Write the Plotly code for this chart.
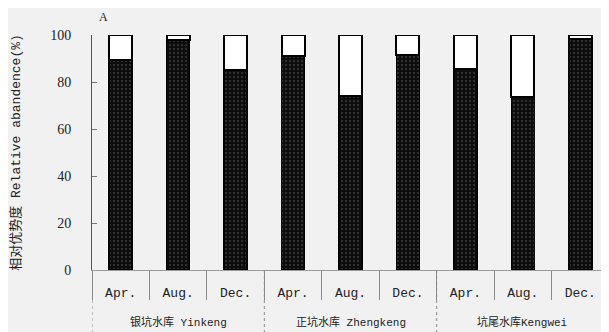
import plotly.graph_objects as go

reservoir_names = ["银坑水库 Yinkeng", "正坑水库 Zhengkeng", "坑尾水库Kengwei"]
month_names = ["Apr.", "Aug.", "Dec."]
reservoirs = [r for r in reservoir_names for _ in month_names]
months = month_names * 3
dominant = [89.2, 97.8, 85.3, 91.2, 74.2, 91.7, 85.7, 73.5, 98.2]
others = [10.8, 2.2, 14.7, 8.8, 25.8, 8.3, 14.3, 26.5, 1.8]
y_ticks = [0, 20, 40, 60, 80, 100]

SERIF = "Liberation Serif, Noto Sans CJK SC, serif"
MONO = "Liberation Mono, Noto Sans CJK SC, monospace"

cats = [f"{r}|{m}" for r, m in zip(reservoirs, months)]

fig = go.Figure()
fig.add_trace(go.Bar(
    x=cats, y=dominant, width=0.4,
    marker=dict(color="#111111", line=dict(color="#000000", width=1.5),
                pattern=dict(shape=".", fgcolor="#6a6a6a", bgcolor="#0d0d0d", size=4, solidity=0.2)),
    showlegend=False,
))
fig.add_trace(go.Bar(
    x=cats, y=others, width=0.4,
    marker=dict(color="#ffffff", line=dict(color="#000000", width=2)),
    showlegend=False,
))

# group labels and group dividers
annotations = []
shapes = []
for gi, name in enumerate(reservoir_names):
    annotations.append(dict(text=name, x=gi * 3 + 1, xref="x", y=-0.221, yref="paper",
                            showarrow=False, yanchor="middle",
                            font=dict(family=MONO, size=11, color="#222222")))
    shapes.append(dict(type="line", xref="x", yref="paper", x0=gi * 3 - 0.5, x1=gi * 3 - 0.5,
                       y0=0, y1=-0.27, line=dict(color="#8a8a8a", width=1, dash="dot")))
annotations.append(dict(text="A", xref="paper", yref="paper", x=0.023, y=1.075, xanchor="center",
                        yanchor="middle", showarrow=False, font=dict(family=SERIF, size=12, color="#222222")))

fig.update_layout(
    width=601, height=324,
    barmode="stack",
    margin=dict(l=84, r=0, t=27, b=62),
    paper_bgcolor="#f1f1f1", plot_bgcolor="#f1f1f1",
    font=dict(family=SERIF, size=13, color="#222222"),
    xaxis=dict(
        type="category", automargin=False,
        tickvals=cats, ticktext=months,
        showline=True, linecolor="#9a9a9a", linewidth=1,
        ticks="outside", tickson="boundaries", ticklen=29, tickcolor="#8a8a8a", tickwidth=1,
        tickfont=dict(family=MONO, size=13, color="#222222"),
        ticklabelstandoff=10,
        showgrid=False, range=[-0.5, 8.5],
    ),
    yaxis=dict(
        range=[0, 100], tickvals=y_ticks, automargin=False,
        showline=True, linecolor="#555555", linewidth=1,
        ticks="inside", ticklen=5, tickcolor="#777777",
        showgrid=False, zeroline=False,
        tickfont=dict(family=SERIF, size=14, color="#222222"),
        ticklabelstandoff=17,
        title=dict(text="相对优势度 Relative abandence(%)", font=dict(family=MONO, size=13), standoff=52),
    ),
    annotations=annotations,
    shapes=shapes,
)
fig.write_html("out.html")
